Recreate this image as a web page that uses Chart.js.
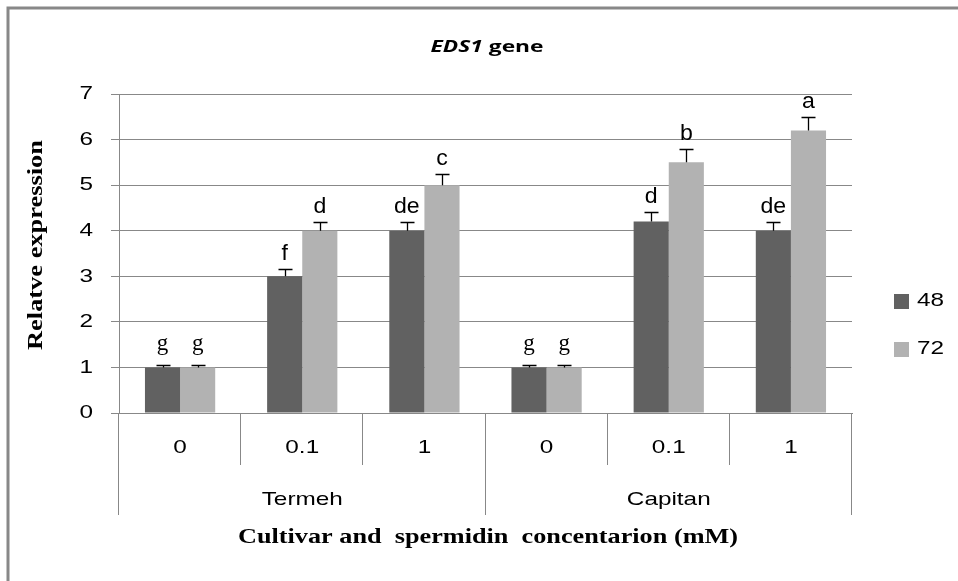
<!DOCTYPE html>
<html><head><meta charset="utf-8">
<script src="https://cdn.jsdelivr.net/npm/chart.js@4/dist/chart.umd.min.js"></script>
<style>html,body{margin:0;padding:0;background:#fff}#wrap{width:958px;height:581px;position:relative}</style>
</head><body><div id="wrap"><canvas id="c" width="958" height="581"></canvas></div>
<script>
const concentrations = ["0", "0.1", "1", "0", "0.1", "1"];
const cultivars = ["Termeh", "Capitan"];
const seriesNames = ["48", "72"];
const values48 = [1, 3, 4, 1, 4.2, 4];
const values72 = [1, 4, 5, 1, 5.5, 6.2];
const err48 = [0.05, 0.15, 0.2, 0.05, 0.2, 0.2];
const err72 = [0.05, 0.2, 0.25, 0.05, 0.3, 0.3];
const letters48 = ["g", "f", "de", "g", "d", "de"];
const letters72 = ["g", "d", "c", "g", "b", "a"];
const yTicks = [0, 1, 2, 3, 4, 5, 6, 7];

const errs = [err48, err72];
const letters = [letters48, letters72];
const colors = ["#616161", "#b2b2b2"];
const SX = 1.28;

function txt(ctx, s, x, y, font, align, sx, baseline) {
  ctx.save();
  ctx.font = font; ctx.textAlign = align || 'center'; ctx.textBaseline = baseline || 'middle';
  ctx.translate(x, y); ctx.scale(sx || 1, 1);
  ctx.fillText(s, 0, 0);
  ctx.restore();
}
function txtFit(ctx, s, x, y, font, width, rot) {
  ctx.save();
  ctx.font = font; ctx.textAlign = 'center'; ctx.textBaseline = 'middle';
  const w = ctx.measureText(s).width;
  ctx.translate(x, y); if (rot) ctx.rotate(rot);
  ctx.scale(width / w, 1);
  ctx.fillText(s, 0, 0);
  ctx.restore();
}

const deco = {
  id: 'deco',
  afterDatasetsDraw(chart) {
    const ctx = chart.ctx, y = chart.scales.y;
    ctx.save();
    ctx.fillStyle = '#000';
    chart.data.datasets.forEach((ds, di) => {
      const meta = chart.getDatasetMeta(di);
      meta.data.forEach((bar, i) => {
        const top = Math.round(y.getPixelForValue(ds.data[i] + errs[di][i])) + 0.5;
        const base = y.getPixelForValue(ds.data[i]);
        const bx = Math.round(bar.x) + 0.5;
        ctx.strokeStyle = '#000'; ctx.lineWidth = 1.3;
        ctx.beginPath();
        ctx.moveTo(bx, base); ctx.lineTo(bx, top);
        ctx.moveTo(bx - 7, top); ctx.lineTo(bx + 7, top);
        ctx.stroke();
        const L = letters[di][i];
        if (L === 'g') txt(ctx, L, bar.x, top - 16, '23px "Liberation Serif"', 'center', 1, 'alphabetic');
        else txt(ctx, L, bar.x, top - 10, '22px "Liberation Sans"', 'center', 1.05, 'alphabetic');
      });
    });
    ctx.restore();
  },
  afterDraw(chart) {
    const ctx = chart.ctx, ca = chart.chartArea, yS = chart.scales.y, xS = chart.scales.x;
    ctx.save();
    ctx.fillStyle = '#000';
    // outer border (top and left)
    ctx.strokeStyle = '#888'; ctx.lineWidth = 3;
    ctx.beginPath(); ctx.moveTo(8, 581); ctx.lineTo(8, 8); ctx.lineTo(958, 8); ctx.stroke();
    // y tick labels
    yTicks.forEach(v => txt(ctx, String(v), 93, yS.getPixelForValue(v), '19px "Liberation Sans"', 'right', SX));
    // x tick labels
    concentrations.forEach((c, i) => txt(ctx, c, xS.getPixelForValue(i), ca.bottom + 35, '19px "Liberation Sans"', 'center', SX));
    // category separators
    ctx.strokeStyle = '#888'; ctx.lineWidth = 1;
    const n = concentrations.length;
    const step = (ca.right - ca.left) / n;
    for (let i = 0; i <= n; i++) {
      const px = Math.round(ca.left + i * step) - 0.5;
      const isGroup = (i % 3 === 0);
      ctx.beginPath(); ctx.moveTo(px, ca.bottom); ctx.lineTo(px, isGroup ? ca.bottom + 102 : ca.bottom + 52); ctx.stroke();
    }
    // group labels
    cultivars.forEach((c, g) => {
      const cx = ca.left + (g * 3 + 1.5) * step;
      txt(ctx, c, cx, ca.bottom + 87, '19px "Liberation Sans"', 'center', SX);
    });
    // axis titles
    txtFit(ctx, 'Cultivar and  spermidin  concentarion (mM)', 488, 537, 'bold 22px "Liberation Serif"', 500);
    txtFit(ctx, 'Relatve expression', 36, 245, 'bold 22px "Liberation Serif"', 210, -Math.PI / 2);
    // chart title
    ctx.save();
    ctx.textBaseline = 'middle'; ctx.textAlign = 'left';
    const f1 = 'bold italic 16px "Open Sans"', f2 = 'bold 16px "Open Sans"';
    const t1 = 'EDS1', t2 = ' gene';
    ctx.font = f1; const w1 = ctx.measureText(t1).width;
    ctx.font = f2; const w2 = ctx.measureText(t2).width;
    const s = 113 / (w1 + w2);
    ctx.translate(487 - 56.5, 47); ctx.scale(s, 1);
    ctx.font = f1; ctx.fillText(t1, 0, 0);
    ctx.font = f2; ctx.fillText(t2, w1, 0);
    ctx.restore();
    // legend
    seriesNames.forEach((nm, i) => {
      const ly = 301 + i * 48;
      ctx.fillStyle = colors[i];
      ctx.fillRect(894, ly - 7, 15, 15);
      ctx.fillStyle = '#000';
      txt(ctx, nm, 917, ly, '19px "Liberation Sans"', 'left', SX);
    });
    ctx.restore();
  }
};

new Chart(document.getElementById('c'), {
  type: 'bar',
  data: {
    labels: concentrations,
    datasets: [
      { label: seriesNames[0], data: values48, backgroundColor: colors[0], barPercentage: 1, categoryPercentage: 0.575 },
      { label: seriesNames[1], data: values72, backgroundColor: colors[1], barPercentage: 1, categoryPercentage: 0.575 }
    ]
  },
  options: {
    responsive: false, animation: false, devicePixelRatio: 1,
    layout: { padding: { top: 94, right: 106, bottom: 168, left: 0 } },
    plugins: { legend: { display: false }, title: { display: false }, tooltip: { enabled: false } },
    scales: {
      x: {
        grid: { display: false },
        border: { display: true, color: '#888', width: 1 },
        ticks: { display: false },
        afterFit(scale) { scale.height = 0; }
      },
      y: {
        min: 0, max: 7,
        afterBuildTicks(scale) { scale.ticks = yTicks.map(v => ({ value: v })); },
        grid: { color: '#888', lineWidth: 1, tickLength: 8 },
        border: { display: true, color: '#888', width: 1 },
        ticks: { display: false },
        afterFit(scale) { scale.width = 119; }
      }
    }
  },
  plugins: [deco]
});
</script></body></html>
